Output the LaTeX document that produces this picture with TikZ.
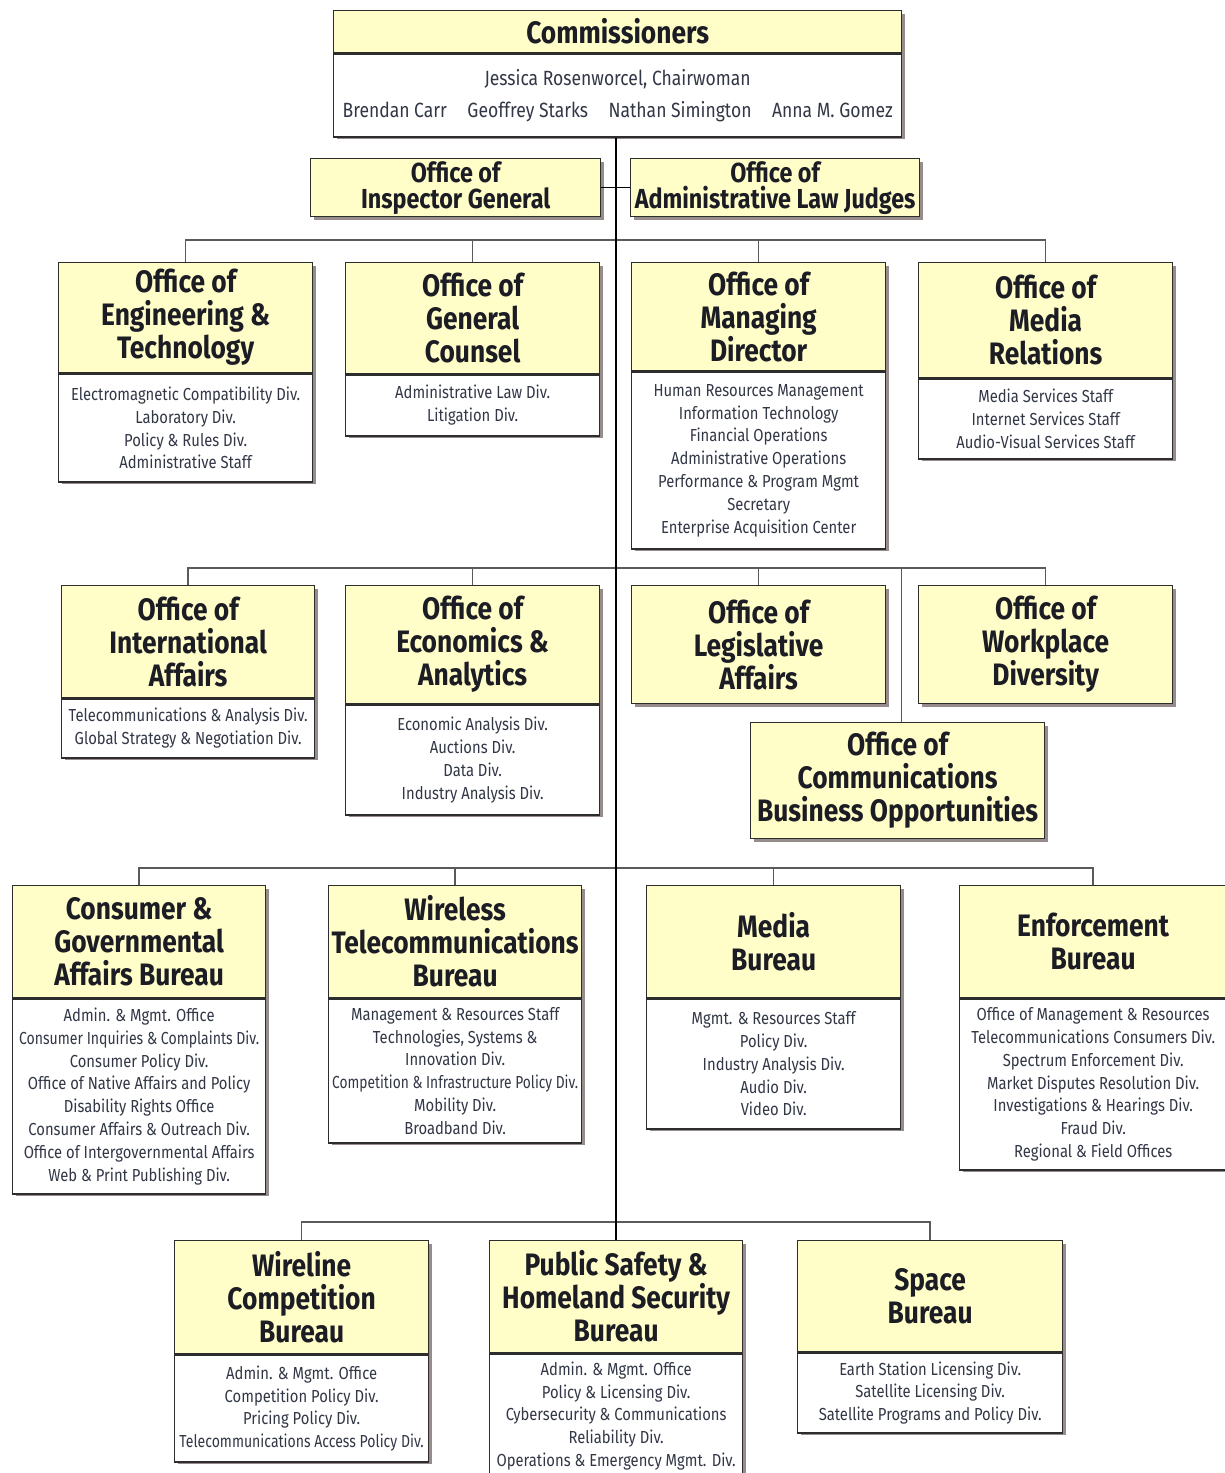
\documentclass[tikz,border=0pt]{standalone}
\usepackage{graphicx}
\usepackage{fontspec}
\setmainfont{Fira Sans}[FakeStretch=0.85]
\definecolor{yelc}{RGB}{255,253,200}
\definecolor{bordc}{RGB}{45,45,45}
\definecolor{shadowc}{RGB}{150,140,140}
\definecolor{bodyc}{RGB}{50,55,70}
\definecolor{titlec}{RGB}{28,28,36}
\definecolor{busc}{RGB}{90,90,90}
\newcommand\sqz[2]{\scalebox{#1}[1]{#2}}
\tikzset{
  hdr/.style={draw=bordc, fill=yelc, line width=1.3, inner sep=0, align=center,
    font=\fontsize{31}{33}\selectfont\bfseries, text=titlec},
  bdy/.style={draw=bordc, fill=white, line width=1.3, inner sep=0, align=center,
    font=\fontsize{17.4}{22.8}\selectfont, text=bodyc},
  trunk/.style={draw=black, line width=1.4},
  bus/.style={draw=busc, line width=1.5},
}
% name, x, y, width, header height, body height, title, body
\newcommand\OBox[8]{%
  \fill[shadowc] (#2+4,#3+4) rectangle (#2+#4+4,#3+#5+#6+4);
  \node[hdr, minimum width=#4, minimum height=#5, anchor=north west] (#1) at (#2,#3) {#7};
  \node[bdy, minimum width=#4, minimum height=#6, anchor=north west] (#1b) at (#1.south west) {#8};
}
% name, x, y, width, height, title
\newcommand\HBox[6]{%
  \fill[shadowc] (#2+4,#3+4) rectangle (#2+#4+4,#3+#5+4);
  \node[hdr, minimum width=#4, minimum height=#5, anchor=north west] (#1) at (#2,#3) {#6};
}
\begin{document}
\begin{tikzpicture}[x=1pt,y=-1pt]
\path[use as bounding box] (0,0) rectangle (1225,1473);
\clip (0,0) rectangle (1225,1473);

% top
\begin{scope}[bdy/.append style={font=\fontsize{20.6}{32}\selectfont}]
\OBox{comm}{333}{10}{568}{42}{83}{Commissioners}{Jessica Rosenworcel, Chairwoman\\Brendan Carr\quad Geoffrey Starks\quad Nathan Simington\quad Anna M. Gomez}
\end{scope}
\begin{scope}[hdr/.append style={font=\fontsize{27.5}{26}\selectfont\bfseries}]
\HBox{ig}{310}{158}{290}{58}{Office of\\Inspector General}
\HBox{alj}{630}{158}{289}{58}{Office of\\Administrative Law Judges}
\end{scope}

% row 1
\OBox{oet}{58}{262}{254}{110}{108}{Office of\\Engineering \&\\Technology}{Electromagnetic Compatibility Div.\\Laboratory Div.\\Policy \& Rules Div.\\Administrative Staff}
\OBox{ogc}{345}{262}{254}{111}{61}{Office of\\General\\Counsel}{Administrative Law Div.\\Litigation Div.}
\OBox{omd}{631}{262}{254}{108}{177}{Office of\\Managing\\Director}{Human Resources Management\\Information Technology\\Financial Operations\\Administrative Operations\\Performance \& Program Mgmt\\Secretary\\Enterprise Acquisition Center}
\OBox{omr}{918}{262}{254}{115}{80}{Office of\\Media\\Relations}{Media Services Staff\\Internet Services Staff\\Audio-Visual Services Staff}

% row 2
\OBox{oia}{61}{585}{253}{112}{59}{Office of\\International\\Affairs}{Telecommunications \& Analysis Div.\\Global Strategy \& Negotiation Div.}
\OBox{oea}{345}{585}{254}{118}{110}{Office of\\Economics \&\\Analytics}{Economic Analysis Div.\\Auctions Div.\\Data Div.\\Industry Analysis Div.}
\HBox{ola}{631}{585}{254}{118}{Office of\\Legislative\\Affairs}
\HBox{owd}{918}{585}{254}{118}{Office of\\Workplace\\Diversity}
\HBox{ocbo}{750}{722}{294}{116}{Office of\\Communications\\Business Opportunities}

% row 3
\OBox{cgab}{12}{885}{253}{112}{195}{Consumer \&\\Governmental\\Affairs Bureau}{Admin. \& Mgmt. Office\\\sqz{0.95}{Consumer Inquiries \& Complaints Div.}\\Consumer Policy Div.\\Office of Native Affairs and Policy\\Disability Rights Office\\Consumer Affairs \& Outreach Div.\\Office of Intergovernmental Affairs\\Web \& Print Publishing Div.}
\OBox{wtb}{328}{885}{253}{112}{144}{Wireless\\Telecommunications\\Bureau}{Management \& Resources Staff\\Technologies, Systems \&\\Innovation Div.\\\sqz{0.93}{Competition \& Infrastructure Policy Div.}\\Mobility Div.\\Broadband Div.}
\OBox{mb}{646}{885}{254}{112}{130}{Media\\Bureau}{Mgmt. \& Resources Staff\\Policy Div.\\Industry Analysis Div.\\Audio Div.\\Video Div.}
\OBox{eb}{959}{885}{267}{112}{171}{Enforcement\\Bureau}{Office of Management \& Resources\\Telecommunications Consumers Div.\\Spectrum Enforcement Div.\\Market Disputes Resolution Div.\\Investigations \& Hearings Div.\\Fraud Div.\\Regional \& Field Offices}

% row 4
\OBox{wcb}{174}{1240}{254}{113}{107}{Wireline\\Competition\\Bureau}{Admin. \& Mgmt. Office\\Competition Policy Div.\\Pricing Policy Div.\\\sqz{0.95}{Telecommunications Access Policy Div.}}
\OBox{pshsb}{489}{1240}{253}{112}{124}{Public Safety \&\\Homeland Security\\Bureau}{Admin. \& Mgmt. Office\\Policy \& Licensing Div.\\Cybersecurity \& Communications\\Reliability Div.\\Operations \& Emergency Mgmt. Div.}
\OBox{space}{797}{1240}{265}{111}{80}{Space\\Bureau}{Earth Station Licensing Div.\\Satellite Licensing Div.\\Satellite Programs and Policy Div.}

% bus coordinates
\coordinate (b1) at (0,240);
\coordinate (b2) at (0,568);
\coordinate (b3) at (0,868);
\coordinate (b4) at (0,1222);

% buses
\draw[bus] (oet.north) -- (oet.north |- b1) -- (omr.north |- b1) -- (omr.north);
\draw[bus] (ogc.north) -- (ogc.north |- b1);
\draw[bus] (omd.north) -- (omd.north |- b1);

\draw[bus] (oia.north) -- (oia.north |- b2) -- (owd.north |- b2) -- (owd.north);
\draw[bus] (oea.north) -- (oea.north |- b2);
\draw[bus] (ola.north) -- (ola.north |- b2);
\draw[bus] ([xshift=4]ocbo.north) -- ([xshift=4]ocbo.north |- b2);

\draw[bus] (cgab.north) -- (cgab.north |- b3) -- (eb.north |- b3) -- (eb.north);
\draw[bus] (wtb.north) -- (wtb.north |- b3);
\draw[bus] (mb.north) -- (mb.north |- b3);

\draw[bus] (wcb.north) -- (wcb.north |- b4) -- (space.north |- b4) -- (space.north);

% trunk
\draw[trunk] (pshsb.north |- commb.south) -- (pshsb.north);
\draw[trunk] (ig.east) -- (ig.east -| pshsb.north);
\draw[trunk] (alj.west) -- (alj.west -| pshsb.north);
\end{tikzpicture}
\end{document}
